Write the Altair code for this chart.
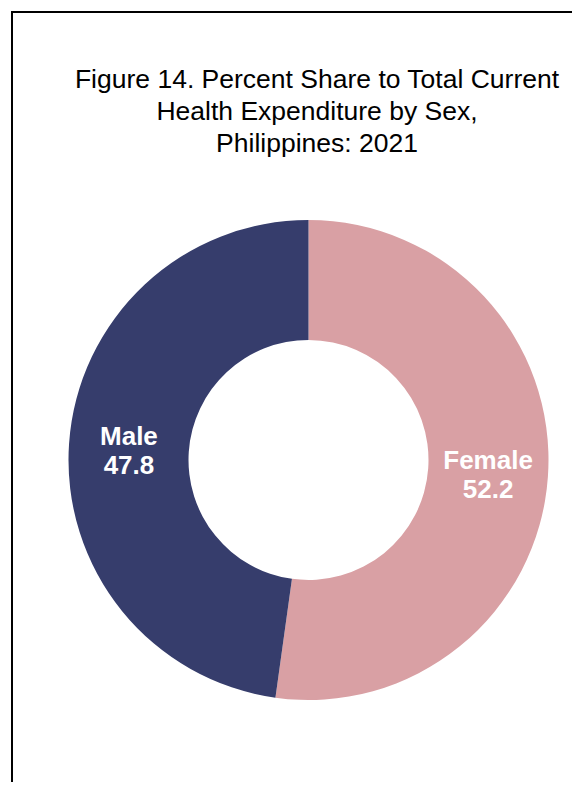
import altair as alt
import pandas as pd

sexes = ["Female", "Male"]
shares = [52.2, 47.8]
colors = ["#D9A0A4", "#363D6C"]

df = pd.DataFrame({
    "sex": sexes,
    "share": shares,
    "idx": list(range(len(sexes))),
    "label": [f"{s}\n{v:.1f}" for s, v in zip(sexes, shares)],
})

theta = alt.Theta("share:Q", stack=True)
order = alt.Order("idx:Q")

base = alt.Chart(df)

arcs = base.mark_arc(innerRadius=120, outerRadius=240).encode(
    theta=theta,
    order=order,
    color=alt.Color("sex:N", scale=alt.Scale(domain=sexes, range=colors), legend=None),
)

labels = base.mark_text(
    radius=180, font="Liberation Sans", fontSize=26, fontWeight="bold",
    color="white", lineBreak="\n", lineHeight=29, align="center", baseline="middle", dy=-11,
).encode(theta=theta, order=order, text="label:N")

frame_df = pd.DataFrame({"k": [0]})
left_line = alt.Chart(frame_df).mark_rule(color="black", strokeWidth=2).encode(
    x=alt.value(-33), y=alt.value(-166), y2=alt.value(700)
)
top_line = alt.Chart(frame_df).mark_rule(color="black", strokeWidth=2).encode(
    x=alt.value(-34), x2=alt.value(600), y=alt.value(-166)
)

chart = alt.layer(arcs, labels, left_line, top_line).properties(
    width=527,
    height=564,
    autosize=alt.AutoSizeParams(type="none"),
    padding={"left": 37, "top": 170, "right": 0, "bottom": 40},
    title=alt.TitleParams(
        text=["Figure 14. Percent Share to Total Current", "Health Expenditure by Sex,", "Philippines: 2021"],
        font="Liberation Sans", fontSize=26.5, fontWeight="normal", color="black",
        lineHeight=32, anchor="middle", frame="group", offset=-146, dx=8.5,
    ),
).configure_view(stroke=None)

chart.save("out.html", embed_options={"renderer": "svg", "actions": False})
